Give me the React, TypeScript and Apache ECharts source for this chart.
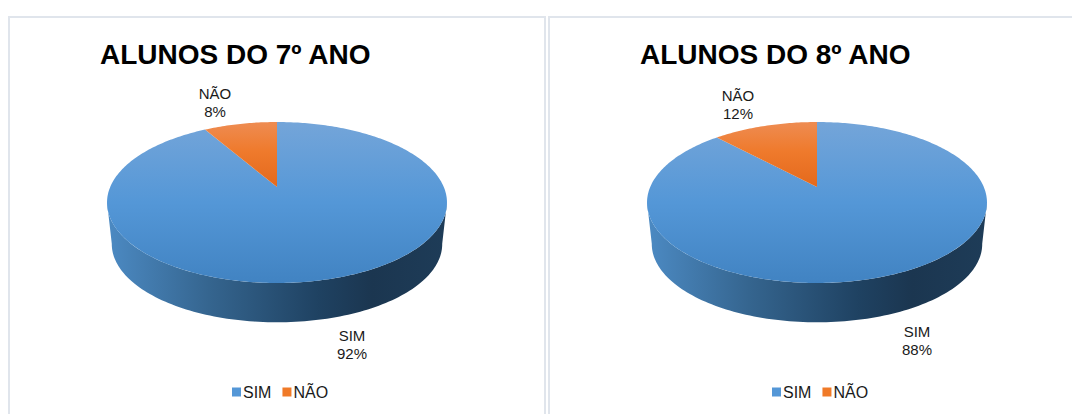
import React, { useEffect, useRef } from "react";
import * as echarts from "echarts";

const categories = ["SIM", "NÃO"];
const values7 = [91.6, 8.4];
const values8 = [88, 12];
const titles = ["ALUNOS DO 7º ANO", "ALUNOS DO 8º ANO"];

const FONT = "'Liberation Sans', Arial, sans-serif";
const K = 0.1925;
const B = 166.8;
const A = 77.5;
const WALL = 42;

const panels = [
  { values: values7, title: titles[0], cx: 277, cy: 187, titleX: 100, legendX: 232, frame: [9, 17, 536, 420],
    labels: [[352, 344.5], [215, 102.5]] },
  { values: values8, title: titles[1], cx: 817, cy: 187, titleX: 640, legendX: 772, frame: [549, 17, 540, 420],
    labels: [[917, 340.5], [738, 104]] },
];

function project(cx: number, cy: number, theta: number, dy = 0, s = 1) {
  const X = Math.sin(theta);
  const Y = -Math.cos(theta);
  const d = 1 - K * Y;
  return [cx + (s * B * X) / d, cy + dy + (s * A * Y) / d];
}

function slicePoints(cx: number, cy: number, from: number, to: number) {
  const pts: number[][] = [[cx, cy]];
  const n = Math.max(8, Math.ceil((to - from) * 60));
  for (let i = 0; i <= n; i++) pts.push(project(cx, cy, from + ((to - from) * i) / n));
  return pts;
}

function wallPoints(cx: number, cy: number) {
  const pts: number[][] = [];
  const a0 = Math.PI * 0.56;
  const a1 = Math.PI * 1.44;
  const n = 120;
  for (let i = 0; i <= n; i++) pts.push(project(cx, cy, a0 + ((a1 - a0) * i) / n));
  for (let i = n; i >= 0; i--) pts.push(project(cx, cy, a0 + ((a1 - a0) * i) / n, WALL, 0.972));
  return pts;
}

const topBlue = { type: "linear", x: 0, y: 0, x2: 0, y2: 1, colorStops: [
  { offset: 0, color: "#74a5d9" }, { offset: 0.5, color: "#5497d7" }, { offset: 1, color: "#4183c2" } ] };
const topOrange = { type: "linear", x: 0, y: 0, x2: 0, y2: 1, colorStops: [
  { offset: 0, color: "#ee8c52" }, { offset: 0.45, color: "#ef7a2c" }, { offset: 1, color: "#e4691c" } ] };
const wallBlue = { type: "linear", x: 0, y: 0, x2: 1, y2: 0, colorStops: [
  { offset: 0, color: "#4c8ac3" }, { offset: 0.3, color: "#35658f" }, { offset: 0.62, color: "#1f4262" },
  { offset: 0.78, color: "#1b3650" }, { offset: 1, color: "#1e3c58" } ] };

function makeSeries(p: (typeof panels)[number]) {
  const total = p.values.reduce((a, b) => a + b, 0);
  let cum = 0;
  return categories.map((name, i) => {
    const from = (cum / total) * Math.PI * 2;
    cum += p.values[i];
    const to = (cum / total) * Math.PI * 2;
    return {
      type: "custom",
      name,
      coordinateSystem: "none",
      silent: true,
      itemStyle: { color: i === 0 ? "#5497d7" : "#f07a28" },
      data: [[p.values[i]]],
      renderItem: (_: any, api: any) => {
        const v = api.value(0) as number;
        const children: any[] = [];
        if (i === 0) {
          children.push({ type: "polygon", shape: { points: wallPoints(p.cx, p.cy) }, style: { fill: wallBlue } });
        }
        children.push({
          type: "polygon",
          shape: { points: slicePoints(p.cx, p.cy, from, to) },
          style: { fill: i === 0 ? topBlue : topOrange },
        });
        children.push({
          type: "text",
          x: p.labels[i][0],
          y: p.labels[i][1],
          style: {
            text: `${name}\n${Math.round((v / total) * 100)}%`,
            font: `15px ${FONT}`,
            fill: "#1a1a1a",
            align: "center",
            verticalAlign: "middle",
            lineHeight: 18,
          },
        });
        return { type: "group", children };
      },
    };
  });
}

export default function App() {
  const ref = useRef<HTMLDivElement>(null);
  useEffect(() => {
    document.body.style.margin = "0";
    const chart = echarts.init(ref.current!, undefined, { renderer: "svg" });
    chart.setOption({
      animation: false,
      backgroundColor: "#ffffff",
      title: panels.map((p) => ({
        text: p.title,
        left: p.titleX,
        top: 40,
        padding: 0,
        textStyle: { fontFamily: FONT, fontSize: 28, fontWeight: "bold", color: "#000000" },
      })),
      legend: panels.map((p) => ({
        data: categories.map((name) => ({ name, icon: "rect" })),
        left: p.legendX,
        top: 384,
        padding: 0,
        itemWidth: 9,
        itemHeight: 9,
        itemGap: 11,
        selectedMode: false,
        textStyle: { fontFamily: FONT, fontSize: 16, color: "#1a1a1a", padding: [0, 0, 0, -3] },
      })),
      graphic: panels.map((p) => ({
        type: "rect",
        silent: true,
        z: -10,
        shape: { x: p.frame[0], y: p.frame[1], width: p.frame[2], height: p.frame[3] },
        style: { fill: "#ffffff", stroke: "#e0e5ec", lineWidth: 2 },
      })),
      series: panels.flatMap(makeSeries),
    });
    return () => chart.dispose();
  }, []);
  return <div ref={ref} style={{ position: "absolute", left: 0, top: 0, width: 1072, height: 414, overflow: "hidden" }} />;
}
